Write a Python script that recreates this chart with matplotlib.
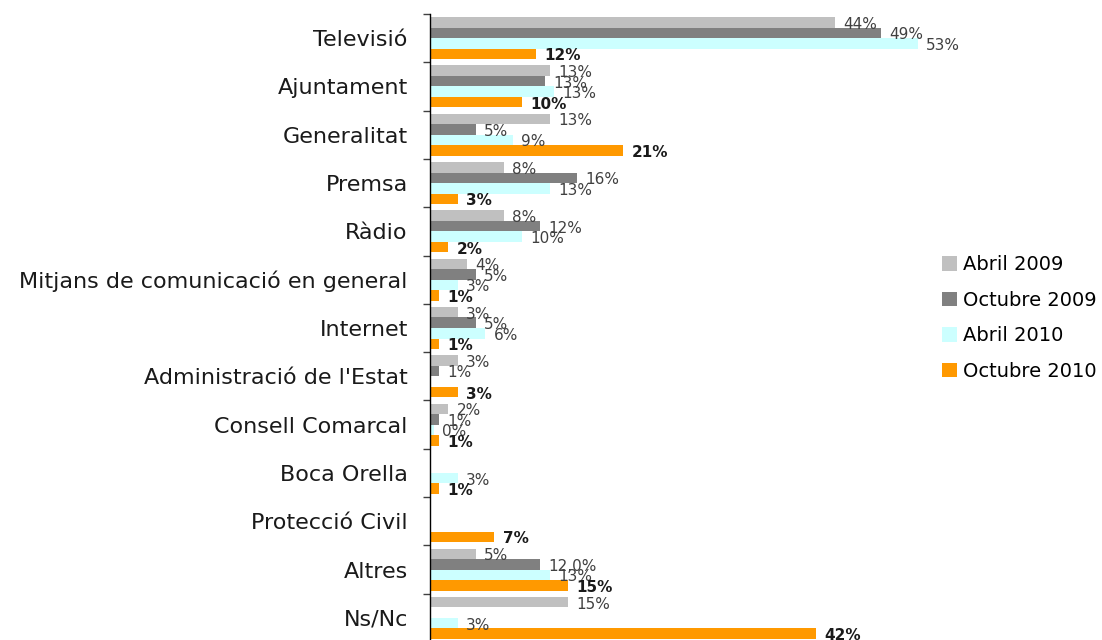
import numpy as np
import matplotlib.pyplot as plt

# Dades llegides del gràfic (percentatges)
categories = ['Televisió', 'Ajuntament', 'Generalitat', 'Premsa', 'Ràdio',
              'Mitjans de comunicació en general', 'Internet',
              "Administració de l'Estat", 'Consell Comarcal', 'Boca Orella',
              'Protecció Civil', 'Altres', 'Ns/Nc']
series_names = ['Abril 2009', 'Octubre 2009', 'Abril 2010', 'Octubre 2010']

abril_2009 = [44, 13, 13, 8, 8, 4, 3, 3, 2, np.nan, np.nan, 5, 15]
octubre_2009 = [49, 12.5, 5, 16, 12, 5, 5, 1, 1, np.nan, np.nan, 12, np.nan]
abril_2010 = [53, 13.5, 9, 13, 10, 3, 6, np.nan, 0.4, 3, np.nan, 13, 3]
octubre_2010 = [11.5, 10, 21, 3, 2, 1, 1, 3, 1, 1, 7, 15, 42]

labels_abril_2009 = ['44%', '13%', '13%', '8%', '8%', '4%', '3%', '3%', '2%', '', '', '5%', '15%']
labels_octubre_2009 = ['49%', '13%', '5%', '16%', '12%', '5%', '5%', '1%', '1%', '', '', '12,0%', '']
labels_abril_2010 = ['53%', '13%', '9%', '13%', '10%', '3%', '6%', '', '0%', '3%', '', '13%', '3%']
labels_octubre_2010 = ['12%', '10%', '21%', '3%', '2%', '1%', '1%', '3%', '1%', '1%', '7%', '15%', '42%']

colors = ['#C0C0C0', '#808080', '#CCFFFF', '#FF9900']

valors = [abril_2009, octubre_2009, abril_2010, octubre_2010]
etiquetes = [labels_abril_2009, labels_octubre_2009, labels_abril_2010, labels_octubre_2010]

fig = plt.figure(figsize=(11.02, 6.40), dpi=100)
ax = fig.add_axes([430 / 1102, -2 / 640, 506 / 1102, 628 / 640])

y = np.arange(len(categories))
h = 0.2175

for i, (vals, labs, col, nom) in enumerate(zip(valors, etiquetes, colors, series_names)):
    pos = y + (i - 1.5) * h
    v = np.array(vals, dtype=float)
    ax.barh(pos, np.nan_to_num(v), height=h, color=col, label=nom)
    for p, val, lab in zip(pos, v, labs):
        if lab == '':
            continue
        if i == 3:
            ax.text(val + 0.9, p + 0.04, lab, va='center', ha='left',
                    fontsize=11, fontweight='bold', color='#1a1a1a')
        else:
            ax.text(val + 0.9, p + 0.04, lab, va='center', ha='left',
                    fontsize=11, color='#404040')

ax.set_xlim(0, 55)
ax.set_ylim(len(categories) - 0.5, -0.5)

ax.set_yticks(y)
ax.set_yticklabels(categories, fontsize=16, color='#1a1a1a')
ax.tick_params(axis='y', which='major', length=0, pad=16)
ax.set_yticks(np.arange(len(categories) + 1) - 0.5, minor=True)
ax.tick_params(axis='y', which='minor', length=5, width=1, color='#404040')
ax.set_xticks([])

for s in ['top', 'right', 'bottom']:
    ax.spines[s].set_visible(False)
ax.spines['left'].set_linewidth(1)

fig.legend(loc='center left', bbox_to_anchor=(942 / 1102, 1 - 318 / 640),
           frameon=False, fontsize=14, handlelength=0.75, handleheight=0.75,
           handletextpad=0.35, labelspacing=0.85, borderpad=0, borderaxespad=0)

fig.savefig('out.png', dpi=100)
